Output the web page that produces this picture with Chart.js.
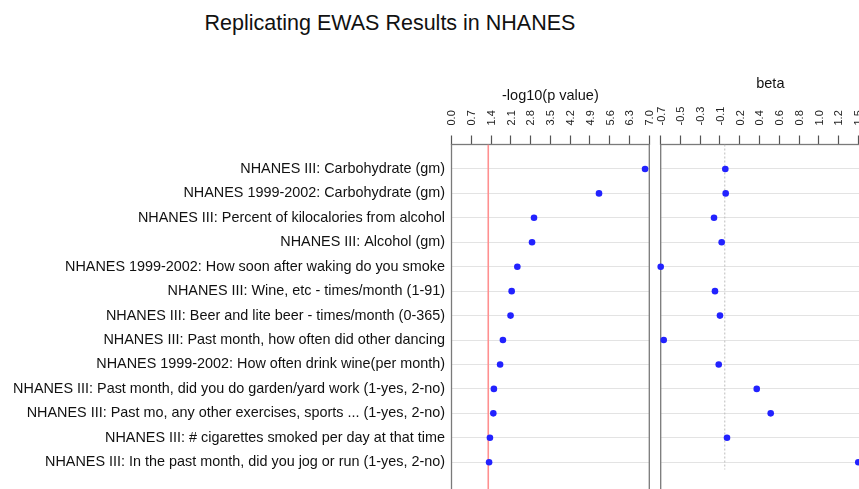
<!DOCTYPE html>
<html>
<head>
<meta charset="utf-8">
<script src="https://cdn.jsdelivr.net/npm/chart.js@4.4.0/dist/chart.umd.min.js"></script>
<style>
  html, body { margin: 0; padding: 0; background: #fff; overflow: hidden; width: 859px; height: 489px; }
  #title { position: absolute; left: 190px; width: 400px; top: 10px; text-align: center;
           font: 21.5px "Liberation Sans", Arial, sans-serif; color: #111; line-height: 26px; }
  #pChart { position: absolute; left: 0; top: 0; }
  #bChart { position: absolute; left: 652px; top: 0; }
</style>
</head>
<body>
<div id="title">Replicating EWAS Results in NHANES</div>
<canvas id="pChart" width="658" height="520"></canvas>
<canvas id="bChart" width="240" height="520"></canvas>
<script>
const variables = [
  'NHANES III: Carbohydrate (gm)',
  'NHANES 1999-2002: Carbohydrate (gm)',
  'NHANES III: Percent of kilocalories from alcohol',
  'NHANES III: Alcohol (gm)',
  'NHANES 1999-2002: How soon after waking do you smoke',
  'NHANES III: Wine, etc - times/month (1-91)',
  'NHANES III: Beer and lite beer - times/month (0-365)',
  'NHANES III: Past month, how often did other dancing',
  'NHANES 1999-2002: How often drink wine(per month)',
  'NHANES III: Past month, did you do garden/yard work (1-yes, 2-no)',
  'NHANES III: Past mo, any other exercises, sports ... (1-yes, 2-no)',
  'NHANES III: # cigarettes smoked per day at that time',
  'NHANES III: In the past month, did you jog or run (1-yes, 2-no)'
];
const pValues = [6.85, 5.22, 2.92, 2.85, 2.33, 2.13, 2.09, 1.82, 1.72, 1.50, 1.48, 1.36, 1.33];
const betas = [0.006, 0.010, -0.121, -0.035, -0.72, -0.11, -0.054, -0.686, -0.068, 0.359, 0.516, 0.025, 1.5];

const pTicks = [0.0, 0.7, 1.4, 2.1, 2.8, 3.5, 4.2, 4.9, 5.6, 6.3, 7.0];
const betaTickLabels = ['-0.7', '-0.5', '-0.3', '-0.1', '0.2', '0.4', '0.6', '0.8', '1.0', '1.2', '1.5'];
const betaMin = -0.72, betaStep = 0.222;
const pThreshold = 1.301;   // -log10(0.05)
const zeroLineEnd = 13.3;
const yMax = 15.2;

const FONT = '"Liberation Sans", Arial, sans-serif';
const BLUE = '#2222ff';

// box around each panel, drawn under the points
const panelBox = {
  id: 'panelBox',
  beforeDatasetsDraw(chart) {
    const { ctx, chartArea: a } = chart;
    ctx.save();
    ctx.strokeStyle = '#7a7a7a';
    ctx.lineWidth = 1.3;
    ctx.strokeRect(a.left, a.top, a.right - a.left, a.bottom - a.top);
    ctx.restore();
  }
};

function rowAxis(width, showLabels) {
  return {
    type: 'linear', reverse: true, min: 0, max: yMax,
    afterBuildTicks: s => { s.ticks = variables.map((_, i) => ({ value: i + 1 })); },
    afterFit: s => { s.width = width; s.paddingTop = 0; s.paddingBottom = 0; },
    grid: { color: '#e3e3e3', lineWidth: 1, drawTicks: false },
    border: { display: false },
    ticks: {
      display: showLabels, padding: 6.5, color: '#111',
      font: { family: FONT, size: 14.4 },
      callback: v => variables[v - 1]
    }
  };
}

function topAxis(min, max, tickValues, fmt, title, titleTop) {
  return {
    type: 'linear', position: 'top', min, max,
    afterBuildTicks: s => { s.ticks = tickValues.map(v => ({ value: v })); },
    afterFit: s => { s.height = 144.5; s.paddingLeft = 0; s.paddingRight = 0; },
    grid: { drawOnChartArea: false, drawTicks: true, tickLength: 9, tickColor: '#555', tickWidth: 1.2 },
    border: { display: false },
    ticks: {
      autoSkip: false, minRotation: 90, maxRotation: 90, padding: 10, labelOffset: 14,
      color: '#222', font: { family: FONT, size: 11 },
      callback: fmt
    },
    title: {
      display: true, text: title, color: '#111',
      font: { family: FONT, size: 14.5 }, padding: { top: titleTop, bottom: 0 }
    }
  };
}

const common = {
  responsive: false,
  animation: false,
  plugins: { legend: { display: false }, tooltip: { enabled: false } }
};

new Chart(document.getElementById('pChart'), {
  type: 'scatter',
  data: {
    datasets: [
      { data: pValues.map((v, i) => ({ x: v, y: i + 1 })), backgroundColor: BLUE,
        pointRadius: 3.3, borderWidth: 0, order: 1, clip: false },
      { data: [{ x: pThreshold, y: 0 }, { x: pThreshold, y: yMax }], showLine: true,
        borderColor: '#ff9090', borderWidth: 1.6, pointRadius: 0, order: 2 }
    ]
  },
  options: {
    ...common,
    layout: { padding: { left: 0, right: 8.7, top: 0, bottom: 0 } },
    scales: {
      x: topAxis(0, 7, pTicks, v => v.toFixed(1), '-log10(p value)', 87.3),
      y: rowAxis(451.5, true)
    }
  },
  plugins: [panelBox]
});

const betaTicks = betaTickLabels.map((_, i) => betaMin + i * betaStep);
new Chart(document.getElementById('bChart'), {
  type: 'scatter',
  data: {
    datasets: [
      { data: betas.map((v, i) => ({ x: v, y: i + 1 })), backgroundColor: BLUE,
        pointRadius: 3.3, borderWidth: 0, order: 1, clip: false },
      { data: [{ x: 0, y: 0 }, { x: 0, y: zeroLineEnd }], showLine: true,
        borderColor: '#bdbdbd', borderWidth: 1, borderDash: [2, 2], pointRadius: 0, order: 2 }
    ]
  },
  options: {
    ...common,
    layout: { padding: { left: 0, right: 12, top: 0, bottom: 0 } },
    scales: {
      x: topAxis(betaMin, betaMin + (880 - 660.7) / 89, betaTicks, (v, i) => betaTickLabels[i], 'beta', 75.3),
      y: rowAxis(8.7, false)
    }
  },
  plugins: [panelBox]
});
</script>
</body>
</html>
